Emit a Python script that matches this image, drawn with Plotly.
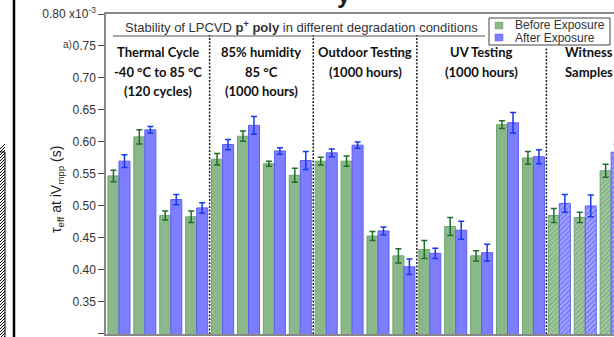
import numpy as np
import plotly.graph_objects as go

# ---------------- data ----------------
group_names = ["Thermal Cycle", "85% humidity", "Outdoor Testing", "UV Testing", "Witness Samples"]
group_sizes = [4, 4, 4, 5, 3]
group_labels = [
    ["Thermal Cycle", "-40 °C to 85 °C", "(120 cycles)"],
    ["85% humidity", "85 °C", "(1000 hours)"],
    ["Outdoor Testing", "(1000 hours)"],
    ["UV Testing", "(1000 hours)"],
    ["Witness", "Samples"],
]

before = [0.547, 0.608, 0.485, 0.483,
          0.573, 0.609, 0.566, 0.548,
          0.570, 0.570, 0.453, 0.422,
          0.432, 0.468, 0.422, 0.627, 0.575,
          0.485, 0.482, 0.555]
before_err = [0.009, 0.011, 0.007, 0.009,
              0.009, 0.008, 0.004, 0.011,
              0.006, 0.008, 0.007, 0.011,
              0.014, 0.014, 0.008, 0.006, 0.010,
              0.011, 0.008, 0.010]
after = [0.570, 0.619, 0.510, 0.497,
         0.596, 0.626, 0.586, 0.571,
         0.583, 0.595, 0.461, 0.405,
         0.426, 0.462, 0.427, 0.630, 0.577,
         0.504, 0.500, 0.584]
after_err = [0.010, 0.005, 0.008, 0.008,
             0.008, 0.014, 0.005, 0.014,
             0.006, 0.005, 0.006, 0.012,
             0.008, 0.014, 0.013, 0.016, 0.011,
             0.014, 0.017, 0.012]

y_tickvals = [0.30, 0.35, 0.40, 0.45, 0.50, 0.55, 0.60, 0.65, 0.70, 0.75, 0.80]
y_ticktext = ["0.30", "0.35", "0.40", "0.45", "0.50", "0.55", "0.60", "0.65", "0.70", "0.75",
              "0.80 x10<sup>-3</sup>"]

# ---------------- derived ----------------
n = sum(group_sizes)
x = np.arange(n)
bounds = np.cumsum([0] + group_sizes) - 0.5
is_witness = np.concatenate([[gi == len(group_sizes) - 1] * s for gi, s in enumerate(group_sizes)])
pattern_shape = ["/" if w else "" for w in is_witness]

GREEN = "rgb(138,184,138)"
GREEN_LINE = "rgb(110,165,110)"
GREEN_ERR = "rgb(30,110,40)"
BLUE = "rgb(125,125,255)"
BLUE_LINE = "rgb(95,95,245)"
BLUE_ERR = "rgb(25,55,235)"

fig = go.Figure()
fig.add_trace(go.Bar(
    x=x, y=before, name="Before Exposure",
    marker=dict(color=GREEN, line=dict(color=GREEN_LINE, width=1),
                pattern=dict(shape=pattern_shape, fillmode="overlay", fgcolor="white",
                             size=3.5, solidity=0.25)),
    error_y=dict(type="data", array=before_err, color=GREEN_ERR, thickness=1.5, width=3),
    showlegend=False,
))
fig.add_trace(go.Bar(
    x=x, y=after, name="After Exposure",
    marker=dict(color=BLUE, line=dict(color=BLUE_LINE, width=1),
                pattern=dict(shape=pattern_shape, fillmode="overlay", fgcolor="white",
                             size=3.5, solidity=0.3)),
    error_y=dict(type="data", array=after_err, color=BLUE_ERR, thickness=1.5, width=3),
    showlegend=False,
))

W, H = 614, 337
L, R, T, B = 106, 0, 14, 3
PW, PH = W - L - R, H - T - B


def px(xp):
    return (xp - L) / PW


def py(yp):
    return (H - B - yp) / PH


shapes = []
# group separators (dotted)
for i, b in enumerate(bounds[1:-1]):
    top = 0.767 if i < 3 else 0.747
    shapes.append(dict(type="line", xref="x", yref="y", x0=b, x1=b, y0=0.30, y1=top,
                       line=dict(color="#222", width=1.5, dash="2px,1.5px")))
# title underline
shapes.append(dict(type="line", xref="paper", yref="paper", x0=px(113), x1=px(485),
                   y0=py(36), y1=py(36), line=dict(color="#555", width=1)))
# legend box
shapes.append(dict(type="rect", xref="paper", yref="paper", x0=px(489), x1=px(610),
                   y0=py(45), y1=py(18), line=dict(color="#444", width=1), fillcolor="white"))
shapes.append(dict(type="rect", xref="paper", yref="paper", x0=px(495), x1=px(503),
                   y0=py(29), y1=py(22), line=dict(color=GREEN_LINE, width=0.5), fillcolor=GREEN))
shapes.append(dict(type="rect", xref="paper", yref="paper", x0=px(495), x1=px(503),
                   y0=py(41), y1=py(34), line=dict(color=BLUE_LINE, width=0.5), fillcolor=BLUE))
# neighbouring panel remnants at left edge
shapes.append(dict(type="line", xref="paper", yref="paper", x0=px(14), x1=px(14),
                   y0=py(-2), y1=py(340), line=dict(color="black", width=2.5)))
shapes.append(dict(type="rect", xref="paper", yref="paper", x0=px(-1), x1=px(5),
                   y0=py(340), y1=py(152), line=dict(color="black", width=1), fillcolor="white"))
hatch = ""
for yy in range(150, 345, 3):
    hatch += f"M {px(-1)},{py(yy)} L {px(5)},{py(yy - 6)} "
shapes.append(dict(type="path", xref="paper", yref="paper", path=hatch,
                   line=dict(color="black", width=1)))

annotations = []
# group labels
line_y = [52, 72, 91]
centers = [(bounds[i] + bounds[i + 1]) / 2 for i in range(len(group_sizes) - 1)] + [18.15]
for c, lines in zip(centers, group_labels):
    for k, t in enumerate(lines):
        annotations.append(dict(x=c, y=py(line_y[k]), xref="x", yref="paper", text=f"<b>{t}</b>",
                                showarrow=False, xanchor="center", yanchor="middle",
                                font=dict(family="Lato", size=13, color="#111")))
# title
annotations.append(dict(x=px(301.5), y=py(27), xref="paper", yref="paper",
                        text="Stability of LPCVD <b>p<sup>+</sup> poly</b> in different degradation conditions",
                        showarrow=False, xanchor="center", yanchor="middle",
                        font=dict(family="Liberation Sans", size=13, color="#333")))
# legend text
annotations.append(dict(x=px(513), y=py(25), xref="paper", yref="paper", text="Before Exposure",
                        showarrow=False, xanchor="left", yanchor="middle",
                        font=dict(family="Liberation Sans", size=12, color="#333")))
annotations.append(dict(x=px(513), y=py(37.5), xref="paper", yref="paper", text="After Exposure",
                        showarrow=False, xanchor="left", yanchor="middle",
                        font=dict(family="Liberation Sans", size=12, color="#333")))
# y axis title
annotations.append(dict(x=px(57), y=py(190), xref="paper", yref="paper",
                        text="τ<sub>eff</sub> at iV<sub>mpp</sub> (s)", textangle=-90,
                        showarrow=False, xanchor="center", yanchor="middle",
                        font=dict(family="Liberation Sans", size=14, color="#222")))
# panel label
annotations.append(dict(x=px(67), y=py(44), xref="paper", yref="paper", text="a)",
                        showarrow=False, xanchor="center", yanchor="middle",
                        font=dict(family="Liberation Sans", size=10, color="#333")))
# cut-off heading glyph at top
annotations.append(dict(x=px(344), y=py(-6), xref="paper", yref="paper", text="<b>y</b>",
                        showarrow=False, xanchor="center", yanchor="middle",
                        font=dict(family="Liberation Sans", size=24, color="#222")))

fig.update_layout(
    width=W, height=H,
    margin=dict(l=L, r=R, t=T, b=B, pad=0, autoexpand=False),
    paper_bgcolor="white", plot_bgcolor="white",
    barmode="group", bargap=0.15, bargroupgap=0.0,
    shapes=shapes, annotations=annotations,
    xaxis=dict(range=[-0.5, 19.11], showticklabels=False, ticks="", showgrid=False,
               zeroline=False, showline=True, mirror=True, linecolor="#888", linewidth=1.5),
    yaxis=dict(range=[0.2999, 0.80], tickvals=y_tickvals, ticktext=y_ticktext,
               ticks="outside", ticklen=6, tickcolor="#555", tickwidth=1.2,
               showline=True, linecolor="#888", linewidth=1.5, showgrid=False, zeroline=False,
               automargin=False,
               tickfont=dict(family="Liberation Sans", size=12, color="#333")),
)

fig.write_html("out.html", config={"displayModeBar": False},
               post_script="document.body.style.margin='0';document.body.style.overflow='hidden';")
